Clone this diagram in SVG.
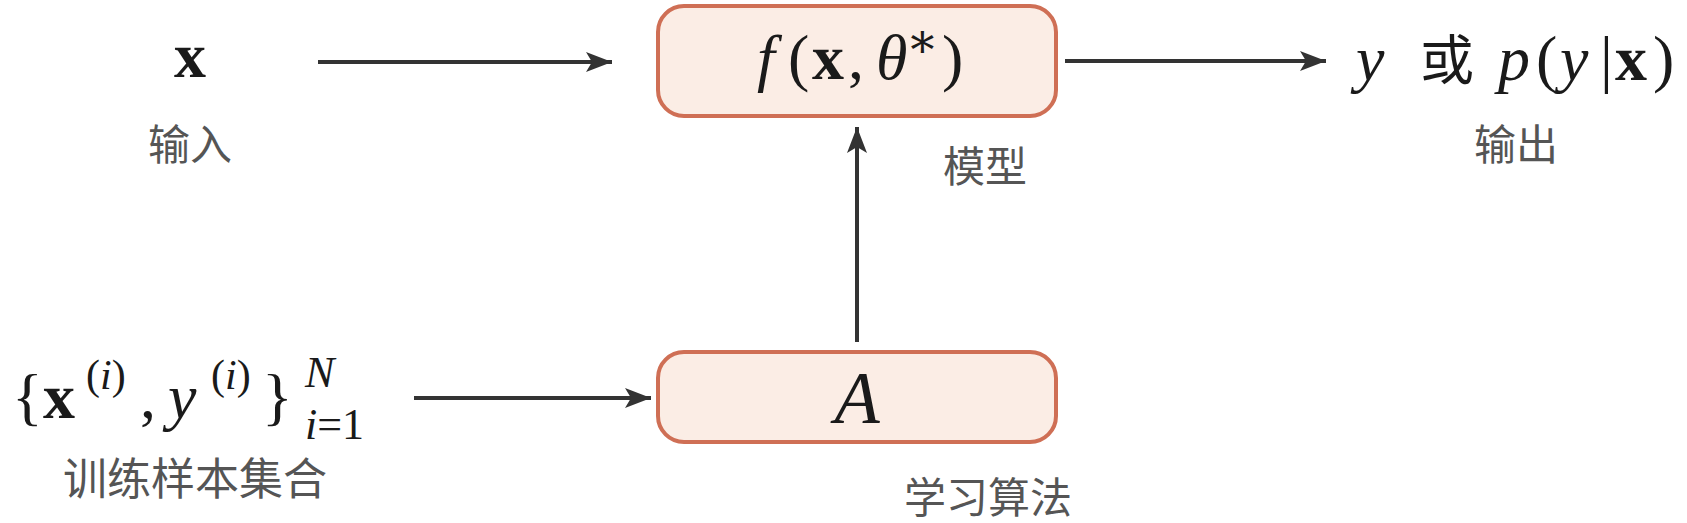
<svg xmlns="http://www.w3.org/2000/svg" width="1687" height="523" viewBox="0 0 1687 523">
<style>
.box{fill:#fbede5;stroke:#cf6f55;stroke-width:4}
.edge{stroke:#333;stroke-width:4;fill:none}
.m{font-family:"Liberation Serif","DejaVu Serif",serif;fill:#1a1a1a;font-size:64px}
.s{font-size:42px}
.s2{font-size:48px}
.s3{font-size:44px}
.cj{font-family:"Noto Sans CJK SC",sans-serif;fill:#555;font-size:42px}
.it{font-style:italic}
.bf{font-weight:bold}
</style>
<defs>
<marker id="ah" markerUnits="userSpaceOnUse" markerWidth="30" markerHeight="24" refX="26" refY="12" orient="auto">
<path d="M0,2 L26,12 L0,22 L6,12 Z" fill="#333"/>
</marker>
</defs>
<rect width="1687" height="523" fill="#fff"/>
<g id="connectors">
<line class="edge" x1="318" y1="62" x2="612" y2="62" marker-end="url(#ah)"/>
<line class="edge" x1="1065" y1="61" x2="1326" y2="61" marker-end="url(#ah)"/>
<line class="edge" x1="857" y1="342" x2="857" y2="127" marker-end="url(#ah)"/>
<line class="edge" x1="414" y1="398" x2="651" y2="398" marker-end="url(#ah)"/>
</g>
<g id="input">
<text class="m bf" x="190" y="77" text-anchor="middle">x</text>
<text class="cj" x="190" y="160" text-anchor="middle">输入</text>
</g>
<g id="model">
<rect class="box" x="658" y="6" width="398" height="110" rx="26"/>
<text class="m" y="79"><tspan class="it" x="757">f</tspan><tspan x="788">(</tspan><tspan class="bf" x="812">x</tspan><tspan x="848">,</tspan><tspan class="it" x="876">θ</tspan><tspan class="s2" x="906" dy="-22">∗</tspan><tspan x="942" dy="22">)</tspan></text>
<text class="cj" x="985" y="182" text-anchor="middle">模型</text>
</g>
<g id="output">
<text class="m" y="80"><tspan class="it" x="1356">y</tspan><tspan x="1420" font-family="Noto Sans CJK SC,sans-serif" style="font-size:54px">或</tspan><tspan class="it" x="1498">p</tspan><tspan x="1536">(</tspan><tspan class="it" x="1560">y</tspan><tspan x="1600">|</tspan><tspan class="bf" x="1615">x</tspan><tspan x="1653">)</tspan></text>
<text class="cj" x="1516" y="160" text-anchor="middle">输出</text>
</g>
<g id="algorithm">
<rect class="box" x="658" y="352" width="398" height="90" rx="26"/>
<text class="m it" x="857" y="423" text-anchor="middle" style="font-size:74px">A</text>
<text class="cj" x="988" y="513" text-anchor="middle">学习算法</text>
</g>
<g id="training">
<text class="m" y="418"><tspan x="12">{</tspan><tspan class="bf" x="43">x</tspan><tspan class="s" x="86" y="389">(<tspan class="it">i</tspan>)</tspan><tspan x="140" y="418">,</tspan><tspan class="it" x="168">y</tspan><tspan class="s" x="211" y="389">(<tspan class="it">i</tspan>)</tspan><tspan x="262" y="418">}</tspan></text>
<text class="m s3 it" x="305" y="387">N</text>
<text class="m s3" x="305" y="439"><tspan class="it">i</tspan>=1</text>
<text class="cj" x="195" y="495" text-anchor="middle" style="font-size:44px">训练样本集合</text>
</g>
</svg>
